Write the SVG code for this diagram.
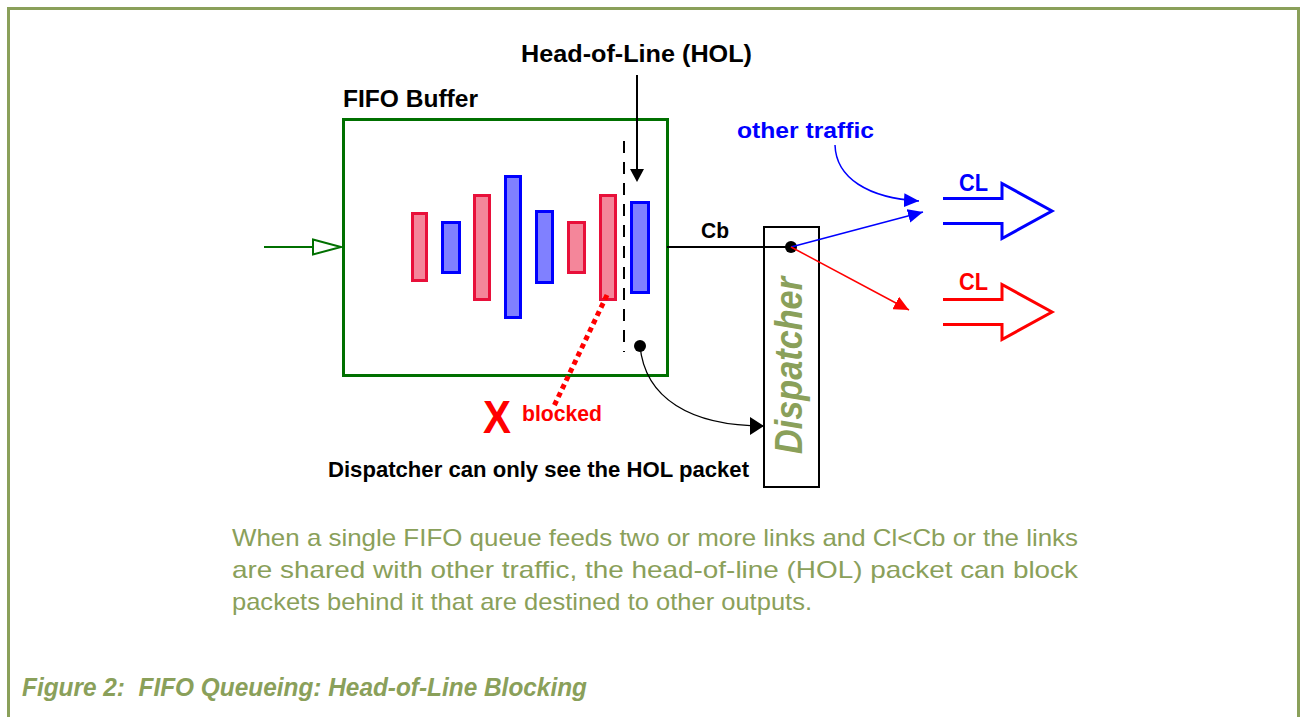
<svg xmlns="http://www.w3.org/2000/svg" width="1302" height="717" viewBox="0 0 1302 717">
<style>
.lbl{font-family:"Liberation Sans",Arial,sans-serif;font-weight:bold;}
.blk{fill:#000;}
.blue{fill:#0000ff;}
.red{fill:#ff0000;}
.para{font-family:"Liberation Sans",Arial,sans-serif;font-size:24px;fill:#8aa05a;}
.pr{fill:#f4869a;stroke:#e8103a;stroke-width:3;}
.pb{fill:#8080ff;stroke:#0000ff;stroke-width:3;}
</style>
<defs>
<marker id="ahBlue" markerUnits="userSpaceOnUse" markerWidth="16" markerHeight="14" refX="15" refY="7" orient="auto"><path d="M0,0 L15,7 L0,14 z" fill="#0000ff"/></marker>
<marker id="ahRed" markerUnits="userSpaceOnUse" markerWidth="16" markerHeight="14" refX="15" refY="7" orient="auto"><path d="M0,0 L15,7 L0,14 z" fill="#ff0000"/></marker>
<marker id="ahBlack" markerUnits="userSpaceOnUse" markerWidth="16" markerHeight="18" refX="14" refY="9" orient="auto"><path d="M0,0 L14,9 L0,18 z" fill="#000"/></marker>
</defs>
<rect width="1302" height="717" fill="#fff"/>
<!-- frame -->
<path d="M8.5,717 V8.5 H1298.5 V717" fill="none" stroke="#8aa05a" stroke-width="3"/>

<g id="fifo-buffer">
<rect x="343.5" y="119.5" width="324" height="256" fill="none" stroke="#007000" stroke-width="3"/>
<text class="lbl blk" x="343" y="107" font-size="23" textLength="135" lengthAdjust="spacingAndGlyphs">FIFO Buffer</text>
</g>

<g id="packets">
<rect class="pr" x="412.5" y="213.5" width="14" height="67"/>
<rect class="pb" x="442.5" y="222.5" width="17" height="50"/>
<rect class="pr" x="474.5" y="195.5" width="15" height="104"/>
<rect class="pb" x="505.5" y="176.5" width="15" height="141"/>
<rect class="pb" x="536.5" y="211.5" width="16" height="71"/>
<rect class="pr" x="568.5" y="222.5" width="16" height="50"/>
<rect class="pr" x="600.5" y="195.5" width="15" height="104"/>
<rect class="pb" x="631.5" y="202.5" width="17" height="90"/>
</g>

<g id="hol-boundary">
<line x1="624" y1="141" x2="624" y2="352" stroke="#000" stroke-width="2" stroke-dasharray="12,9"/>
</g>

<g id="hol-label">
<text class="lbl blk" x="521" y="62" font-size="23" textLength="231" lengthAdjust="spacingAndGlyphs">Head-of-Line (HOL)</text>
</g>

<g id="dispatcher">
<rect x="764" y="227" width="55" height="260" fill="none" stroke="#000" stroke-width="2"/>
<text x="0" y="0" transform="translate(802,454) rotate(-90)" font-family="'Liberation Sans',Arial,sans-serif" font-weight="bold" font-style="italic" font-size="38" fill="#8aa05a" textLength="177" lengthAdjust="spacingAndGlyphs">Dispatcher</text>
</g>

<g id="output-blue">
<path d="M943,198.5 H1002 V183.5 L1052,211 L1002,238.5 V223.5 H943" fill="none" stroke="#0000ff" stroke-width="3"/>
<text class="lbl blue" x="959" y="191" font-size="23" textLength="29" lengthAdjust="spacingAndGlyphs">CL</text>
</g>

<g id="output-red">
<path d="M943,299.5 H1002 V284.5 L1052,312 L1002,339.5 V324.5 H943" fill="none" stroke="#ff0000" stroke-width="3"/>
<text class="lbl red" x="959" y="290" font-size="23" textLength="29" lengthAdjust="spacingAndGlyphs">CL</text>
</g>

<g id="other-traffic">
<text class="lbl blue" x="737" y="138" font-size="22" textLength="137" lengthAdjust="spacingAndGlyphs">other traffic</text>
</g>

<g id="blocked">
<text class="lbl red" x="483" y="433" font-size="46" textLength="28" lengthAdjust="spacingAndGlyphs">X</text>
<text class="lbl red" x="522" y="421" font-size="22" textLength="80" lengthAdjust="spacingAndGlyphs">blocked</text>
</g>

<g id="dispatcher-note">
<text class="lbl blk" x="328" y="477" font-size="22" textLength="421" lengthAdjust="spacingAndGlyphs">Dispatcher can only see the HOL packet</text>
</g>

<g id="cb-label">
<text class="lbl blk" x="701" y="238" font-size="22" textLength="28" lengthAdjust="spacingAndGlyphs">Cb</text>
</g>

<g id="connectors">
<!-- input -->
<line x1="264" y1="247" x2="313" y2="247" stroke="#007000" stroke-width="2"/>
<path d="M313,239.5 L341,247 L313,254.5 z" fill="#fff" stroke="#007000" stroke-width="2"/>
<!-- HOL pointer -->
<line x1="637" y1="75" x2="637" y2="170" stroke="#000" stroke-width="2"/>
<path d="M630,169 L644,169 L637,182 z" fill="#000"/>
<!-- Cb line -->
<line x1="667" y1="247" x2="791" y2="247" stroke="#000" stroke-width="2"/>
<circle cx="791" cy="247" r="6" fill="#000"/>
<!-- dispatcher to outputs -->
<line x1="791" y1="247" x2="923" y2="212" stroke="#0000ff" stroke-width="1.5" marker-end="url(#ahBlue)"/>
<line x1="791" y1="247" x2="909" y2="310" stroke="#ff0000" stroke-width="1.5" marker-end="url(#ahRed)"/>
<!-- other traffic -->
<path d="M835,145 C836,178 868,198 919,201" fill="none" stroke="#0000ff" stroke-width="1.5" marker-end="url(#ahBlue)"/>
<!-- HOL visibility -->
<circle cx="640" cy="346" r="6" fill="#000"/>
<path d="M640,346 C645,398 690,426 764,426" fill="none" stroke="#000" stroke-width="1.3" marker-end="url(#ahBlack)"/>
<!-- blocked -->
<line x1="607" y1="295" x2="554" y2="406" stroke="#ff0000" stroke-width="5" stroke-dasharray="5,4"/>
</g>

<g id="description">
<text class="para" x="232" y="546" textLength="846" lengthAdjust="spacingAndGlyphs">When a single FIFO queue feeds two or more links and Cl&lt;Cb or the links</text>
<text class="para" x="232" y="578" textLength="846" lengthAdjust="spacingAndGlyphs">are shared with other traffic, the head-of-line (HOL) packet can block</text>
<text class="para" x="232" y="610" textLength="580" lengthAdjust="spacingAndGlyphs">packets behind it that are destined to other outputs.</text>
</g>

<g id="caption">
<text x="22" y="696" font-family="'Liberation Sans',Arial,sans-serif" font-weight="bold" font-style="italic" font-size="25" fill="#8aa05a" textLength="565" lengthAdjust="spacingAndGlyphs" xml:space="preserve">Figure 2:  FIFO Queueing: Head-of-Line Blocking</text>
</g>
</svg>
